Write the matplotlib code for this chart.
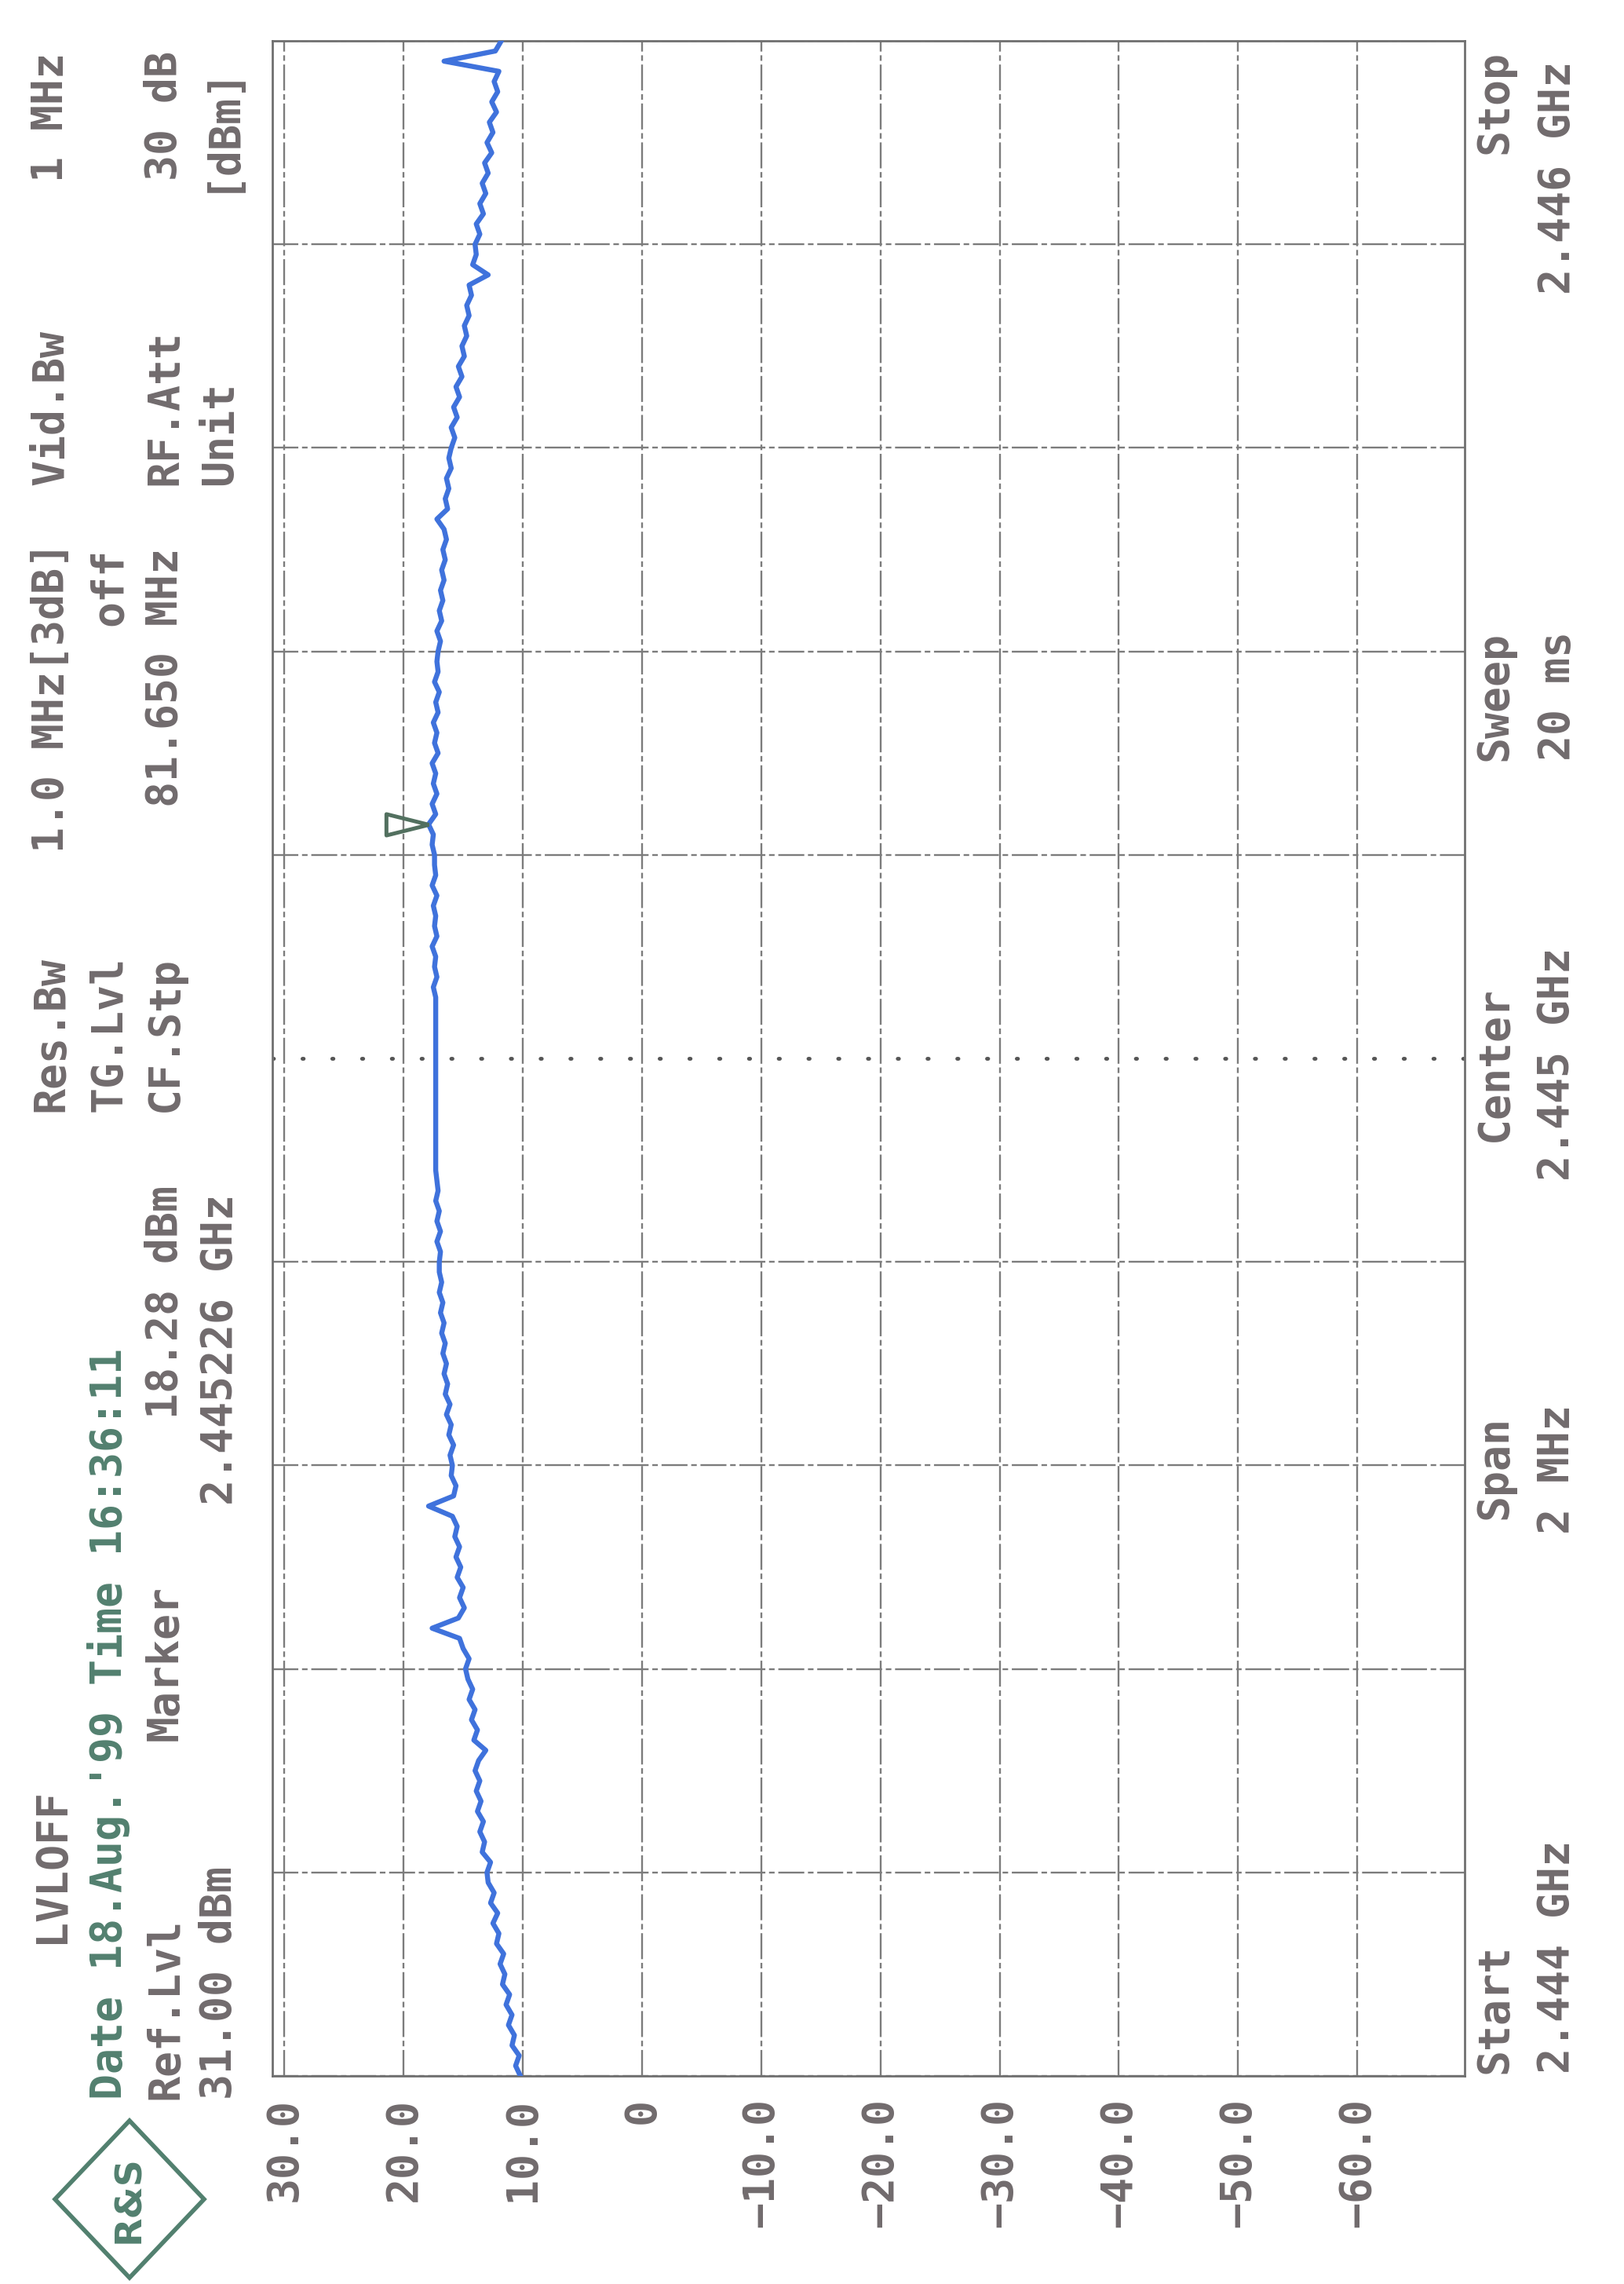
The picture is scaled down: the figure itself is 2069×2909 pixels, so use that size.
import numpy as np
import matplotlib.pyplot as plt
from matplotlib.patches import Polygon

W, H = 2069, 2909
DPI = 100

FONT = 'DejaVu Sans Mono'
FS = 39.5
WEIGHT = 'bold'
GRAY = '#716b6d'
GREEN = '#52806f'
BLUE = '#3f72dc'
GRID = '#7c7c7c'

# sweep settings (GHz / dBm)
f_start, f_stop = 2.444, 2.446
center_freq = 2.445
ref_lvl, bottom_lvl = 31.0, -69.0

grid_levels = [30, 20, 10, 0, -10, -20, -30, -40, -50, -60]
level_labels = ['30.0', '20.0', '10.0', '0', '\u221210.0', '\u221220.0',
                '\u221230.0', '\u221240.0', '\u221250.0', '\u221260.0']
grid_freqs = [2.4440, 2.4442, 2.4444, 2.4446, 2.4448,
              2.4452, 2.4454, 2.4456, 2.4458, 2.4460]

# trace, start -> stop
trace_dbm = [
    10.2, 10.6, 10.3, 10.9, 10.7, 11.2, 10.9, 11.4, 11.1, 11.7,
    11.5, 11.9, 11.6, 12.2, 12.0, 12.5, 12.1, 12.7, 12.4, 12.9,
    13.0, 12.7, 13.4, 13.2, 13.6, 13.3, 13.8, 13.5, 13.9, 13.6,
    14.0, 13.7, 13.1, 14.1, 13.8, 14.3, 14.0, 14.5, 14.2, 14.6,
    14.8, 14.5, 15.0, 15.3, 17.6, 15.4, 14.9, 15.3, 15.0, 15.5,
    15.2, 15.6, 15.3, 15.7, 15.5, 15.9, 17.9, 15.8, 15.6, 16.0,
    15.9, 16.1, 15.8, 16.2, 16.0, 16.4, 16.1, 16.5, 16.3, 16.6,
    16.4, 16.7, 16.5, 16.8, 16.6, 16.9, 16.7, 17.0, 16.8, 17.0,
    17.0, 16.9, 17.2, 16.9, 17.2, 17.0, 17.3, 17.1, 17.2, 17.3,
    17.3, 17.3, 17.3, 17.3, 17.3, 17.3, 17.3, 17.3, 17.3, 17.3,
    17.3, 17.3, 17.3, 17.3, 17.3, 17.3, 17.3, 17.5, 17.2, 17.4,
    17.3, 17.6, 17.2, 17.4, 17.3, 17.5, 17.2, 17.6, 17.3, 17.4,
    17.4, 17.6, 17.5, 17.9, 17.3, 17.6, 17.2, 17.5, 17.3, 17.6,
    17.1, 17.4, 17.2, 17.5, 17.1, 17.3, 17.0, 17.4, 17.1, 17.2,
    17.1, 16.9, 17.2, 16.8, 17.0, 16.7, 16.9, 16.6, 16.8, 16.5,
    16.7, 16.4, 16.6, 17.2, 16.3, 16.5, 16.2, 16.4, 16.0, 16.2,
    16.0, 15.7, 16.0, 15.5, 15.8, 15.3, 15.6, 15.1, 15.4, 14.9,
    15.1, 14.7, 14.9, 14.5, 14.7, 14.3, 14.5, 12.9, 14.2, 13.9,
    14.0, 13.6, 13.9, 13.3, 13.6, 13.1, 13.4, 12.9, 13.2, 12.6,
    13.0, 12.5, 12.8, 12.2, 12.6, 12.1, 12.4, 12.0, 16.6, 12.3,
    11.8,
]
freq = np.linspace(f_start, f_stop, len(trace_dbm))

marker_freq = 2.445226

fig = plt.figure(figsize=(W / DPI, H / DPI), dpi=DPI)
fig.patch.set_facecolor('white')

# plot frame in pixels: left/right = ref level / bottom level, top/bottom = stop/start
ax = fig.add_axes([347 / W, 1 - 2644 / H, (1866 - 347) / W, (2644 - 52) / H])
ax.set_xlim(ref_lvl, bottom_lvl)
ax.set_ylim(f_start, f_stop)

grid_style = dict(color=GRID, lw=1.7, ls=(0, (14, 2, 3, 2)), zorder=1)
for lv in grid_levels:
    ax.axvline(lv, **grid_style)
for f in grid_freqs:
    ax.axhline(f, **grid_style)
ax.axhline(center_freq, color='#555555', lw=3.5, ls=(0, (0.3, 7.5)),
           dash_capstyle='round', zorder=1)

ax.plot(trace_dbm, freq, color=BLUE, lw=4.6, solid_joinstyle='round', zorder=3)

# peak marker, drawn as an open triangle pointing at the trace
mi = int(np.argmin(np.abs(freq - marker_freq)))
tri = [(0, 0), (-4, 1), (-4, -1), (0, 0)]
ax.plot(trace_dbm[mi], freq[mi], marker=tri, ms=78, mfc='none',
        mec='#52705f', mew=3.6, zorder=4)

ax.set_xticks(grid_levels)
ax.set_xticklabels(level_labels, rotation=90, ha='center', va='top',
                   family=FONT, fontsize=FS, color=GRAY, fontweight=WEIGHT)
ax.tick_params(axis='x', length=0, pad=20)
ax.set_yticks([])
for sp in ax.spines.values():
    sp.set_color('#707070')
    sp.set_linewidth(2.0)


def put(s, x, y, ha='left', color=GRAY):
    fig.text(x / W, 1 - y / H, s, rotation=90, rotation_mode='anchor',
             ha=ha, va='center', color=color, fontsize=FS, family=FONT,
             fontweight=WEIGHT)


# header columns (left side)
cA, cB, cC, cD = 65, 139, 210, 280
put('LVLOFF', cA, 2475)
put("Date 18.Aug.'99 Time 16:36:11", cB, 2674, color=GREEN)
put('Ref.Lvl', cC, 2674)
put('31.00 dBm', cD, 2674)
put('Marker', cC, 2217)
put('18.28 dBm', cC, 1807)
put('2.445226 GHz', cD, 1917)
put('Res.Bw', cA, 1416)
put('TG.Lvl', cB, 1416)
put('CF.Stp', cC, 1416)
put('1.0 MHz[3dB]', cA, 1086)
put('off', cB, 698, ha='right')
put('81.650 MHz', cC, 698, ha='right')
put('Vid.Bw', cA, 618)
put('RF.Att', cC, 618)
put('Unit', cD, 618)
put('1 MHz', cA, 67, ha='right')
put('30 dB', cC, 65, ha='right')
put('[dBm]', cD, 80, ha='right')

# footer columns (right side)
cE, cF = 1904, 1984
put('Stop', cE, 64, ha='right')
put('2.446 GHz', cF, 78, ha='right')
put('Sweep', cE, 969)
put('20 ms', cF, 969)
put('Center', cE, 1355, ha='center')
put('2.445 GHz', cF, 1355, ha='center')
put('Span', cE, 1935)
put('2 MHz', cF, 1954)
put('Start', cE, 2641)
put('2.444 GHz', cF, 2641)

# R&S logo
lx, ly, rx, ry = 165 / W, 1 - 2801 / H, 95 / W, 100 / H
fig.patches.append(Polygon([(lx, ly - ry), (lx + rx, ly), (lx, ly + ry), (lx - rx, ly)],
                           closed=True, fill=False, edgecolor=GREEN, lw=4,
                           transform=fig.transFigure, figure=fig))
fig.text(lx, ly, 'R&S', rotation=90, ha='center', va='center', color=GREEN,
         fontsize=34, fontweight='bold', family='DejaVu Sans')

fig.savefig('out.png', dpi=DPI)
